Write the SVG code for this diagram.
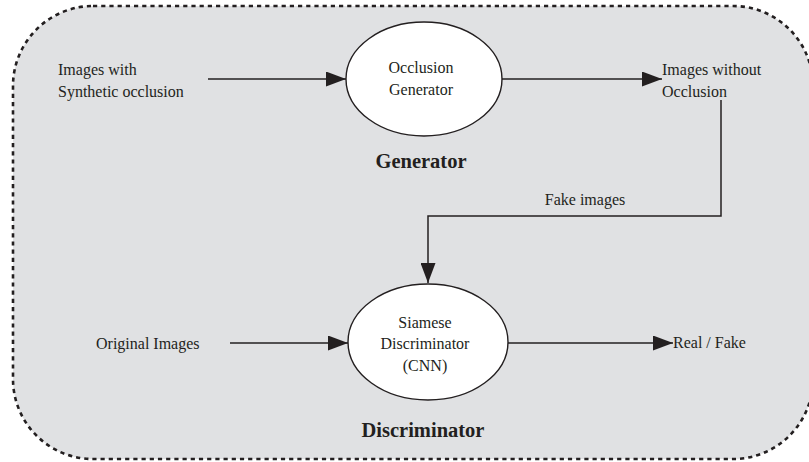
<svg xmlns="http://www.w3.org/2000/svg" width="809" height="462" viewBox="0 0 809 462">
<style>
.t{font-family:"Liberation Serif","Times New Roman",serif;font-size:16px;fill:#231f20}
.b{font-family:"Liberation Serif","Times New Roman",serif;font-size:20.5px;font-weight:bold;fill:#231f20}
.node{fill:#ffffff;stroke:#231f20;stroke-width:1.4}
.edge{fill:none;stroke:#231f20;stroke-width:1.5}
</style>
<defs>
<marker id="arr" viewBox="0 0 20 15" refX="20" refY="7.5" markerWidth="20" markerHeight="15" markerUnits="userSpaceOnUse" orient="auto">
<path d="M0,0 L20,7.5 L0,15 z" fill="#231f20"/>
</marker>
</defs>
<rect id="container" x="13" y="6" width="800" height="453" rx="80" ry="80" fill="#e0e1e3" stroke="#231f20" stroke-width="2.6" stroke-dasharray="4.2 4"/>
<g id="connectors">
<line class="edge" x1="208" y1="79" x2="346" y2="79" marker-end="url(#arr)"/>
<line class="edge" x1="502" y1="79" x2="662" y2="79" marker-end="url(#arr)"/>
<polyline class="edge" points="721,100 721,216 428,216 428,283" marker-end="url(#arr)"/>
<line class="edge" x1="230" y1="343" x2="348" y2="343" marker-end="url(#arr)"/>
<line class="edge" x1="508" y1="343" x2="673" y2="343" marker-end="url(#arr)"/>
<text class="t" x="585" y="205" text-anchor="middle">Fake images</text>
</g>
<g id="input-synthetic">
<text class="t" x="58" y="75">Images with</text>
<text class="t" x="58" y="97">Synthetic occlusion</text>
</g>
<g id="occlusion-generator">
<ellipse class="node" cx="424" cy="79" rx="78" ry="57"/>
<text class="t" x="421" y="73" text-anchor="middle">Occlusion</text>
<text class="t" x="421" y="95" text-anchor="middle">Generator</text>
</g>
<g id="generator-label">
<text class="b" x="421" y="168" text-anchor="middle">Generator</text>
</g>
<g id="images-without-occlusion">
<text class="t" x="662" y="75">Images without</text>
<text class="t" x="662" y="97">Occlusion</text>
</g>
<g id="original-images">
<text class="t" x="96" y="349">Original Images</text>
</g>
<g id="siamese-discriminator">
<ellipse class="node" cx="428" cy="342" rx="80" ry="58"/>
<text class="t" x="425" y="328" text-anchor="middle">Siamese</text>
<text class="t" x="425" y="349" text-anchor="middle">Discriminator</text>
<text class="t" x="425" y="371" text-anchor="middle">(CNN)</text>
</g>
<g id="real-fake">
<text class="t" x="673" y="348">Real / Fake</text>
</g>
<g id="discriminator-label">
<text class="b" x="423" y="437" text-anchor="middle">Discriminator</text>
</g>
</svg>
